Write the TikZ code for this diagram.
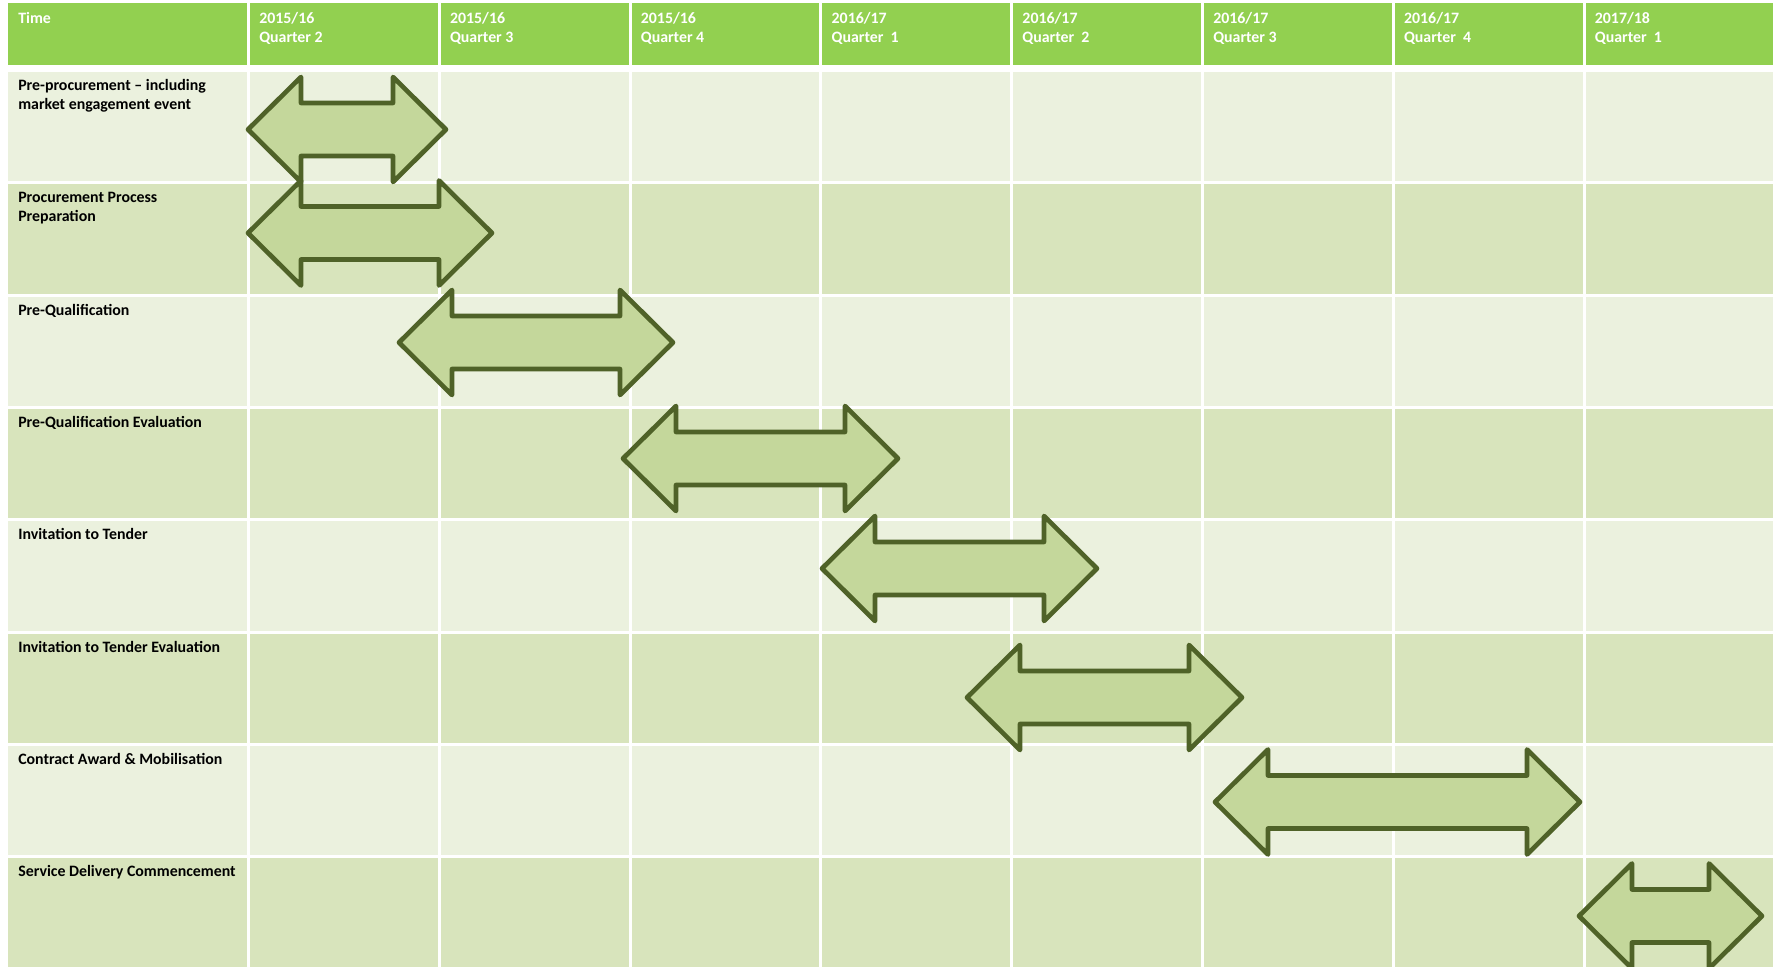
\documentclass[tikz,border=0pt]{standalone}
\usepackage{fontspec}
\setmainfont{Carlito}
\usepackage{tikz}
\usetikzlibrary{positioning}

\definecolor{headgreen}{HTML}{92D050}
\definecolor{rowlight}{HTML}{EBF1DE}
\definecolor{rowdark}{HTML}{D8E4BC}
\definecolor{arrowfill}{HTML}{C4D79B}
\definecolor{arrowline}{HTML}{4F6228}

\begin{document}
\begin{tikzpicture}[x=0.75pt, y=-0.75pt,
    every node/.style={font=\fontsize{11.9}{14.25}\selectfont\bfseries, inner sep=0pt, align=left, anchor=base west},
    headtext/.style={text=white},
    rowtext/.style={text=black},
    phase/.style={draw=arrowline, fill=arrowfill, line width=3.5pt, line join=round}]

    \useasboundingbox (0,0) rectangle (1779,967);
    \clip (0,0) rectangle (1779,967);

    % Cells
    \fill[headgreen] (8,3) rectangle (247,65);
    \foreach \k in {1,...,8}
        \fill[headgreen] ({250+190.8*(\k-1)},3) rectangle ({247+190.8*\k},65);
    \foreach \r in {0,...,7} {
        \pgfmathsetmacro\rowtop{72+112.3*\r}
        \pgfmathsetmacro\rowbot{69+112.3*(\r+1)}
        \ifodd\r \def\rowcol{rowdark}\else \def\rowcol{rowlight}\fi
        \fill[\rowcol] (8,\rowtop) rectangle (247,\rowbot);
        \foreach \k in {1,...,8}
            \fill[\rowcol] ({250+190.8*(\k-1)},\rowtop) rectangle ({247+190.8*\k},\rowbot);
    }

    % Header (base = last line)
    \node at (18,23) (time) [headtext] {Time};
    \node at (259,42) (q1) [headtext] {2015/16\\Quarter 2};
    \node at (449.8,42) (q2) [headtext] {2015/16\\Quarter 3};
    \node at (640.6,42) (q3) [headtext] {2015/16\\Quarter 4};
    \node at (831.4,42) (q4) [headtext] {2016/17\\Quarter\ \ 1};
    \node at (1022.2,42) (q5) [headtext] {2016/17\\Quarter\ \ 2};
    \node at (1213,42) (q6) [headtext] {2016/17\\Quarter 3};
    \node at (1403.8,42) (q7) [headtext] {2016/17\\Quarter\ \ 4};
    \node at (1594.6,42) (q8) [headtext] {2017/18\\Quarter\ \ 1};

    % Tasks
    \node at (18,109.5) (preproc) [rowtext] {Pre-procurement -- including\\market engagement event};
    \node at (18,221.8) (prep) [rowtext] {Procurement Process\\Preparation};
    \node at (18,315.1) (pq) [rowtext] {Pre-Qualification};
    \node at (18,427.4) (pqeval) [rowtext] {Pre-Qualification Evaluation};
    \node at (18,539.7) (itt) [rowtext] {Invitation to Tender};
    \node at (18,652) (itteval) [rowtext] {Invitation to Tender Evaluation};
    \node at (18,764.3) (award) [rowtext] {Contract Award \& Mobilisation};
    \node at (18,876.6) (service) [rowtext] {Service Delivery Commencement};

    % Arrows
    \foreach \xl/\xr/\yc in {248/446/129.5, 248/492/233, 399/673/342.5, 623/898/458.5,
                             822/1097/568.5, 967/1242/697.5, 1215/1580/802, 1579/1762/916}
        \draw[phase] (\xl,\yc) -- ++(53,-52.5) -- ++(0,26) -- ({\xr-53},{\yc-26.5})
            -- ++(0,-26) -- (\xr,\yc) -- ++(-53,52.5) -- ++(0,-26)
            -- ({\xl+53},{\yc+26.5}) -- ++(0,26) -- cycle;

\end{tikzpicture}
\end{document}
